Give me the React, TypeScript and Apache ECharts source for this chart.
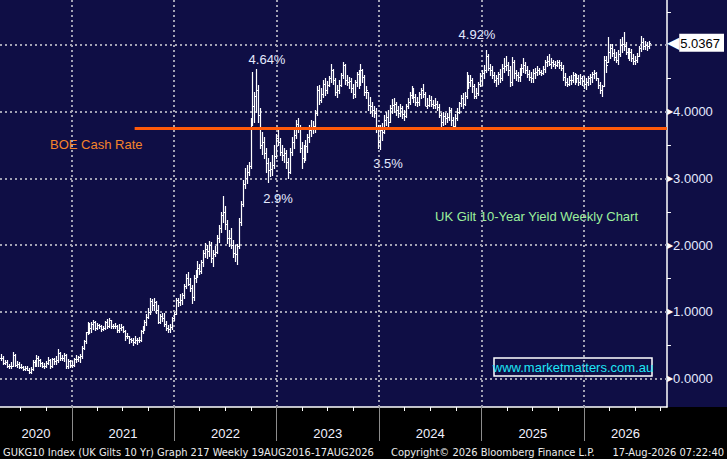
import React, { useEffect, useRef } from "react";
import * as echarts from "echarts";

// ---- time frame ----
const DAY = 86400000;
const WEEK = 7 * DAY;
const firstBarDate = Date.UTC(2020, 3, 24);
const axisStart = Date.UTC(2020, 3, 20);
const axisEnd = Date.UTC(2026, 9, 23, 12);
const yearStarts = [2021, 2022, 2023, 2024, 2025, 2026];
const tickYears = [2020, 2021, 2022, 2023, 2024, 2025, 2026];
const yLabelValues = [0, 1, 2, 3, 4];
const yMinorValues = [0.5, 1.5, 2.5, 3.5, 4.5, 5.5];
const gridValues = [0, 1, 2, 3, 4, 5];
const lastPrice = 5.0367;
const boeRate = 3.75;
const boeStart = Date.UTC(2021, 7, 13);
const firstOpen = 0.3;

// ---- weekly bars: [low, high, close] ----
const w2020 = [
  [0.27, 0.36, 0.31], [0.22, 0.33, 0.23], [0.21, 0.28, 0.24], [0.17, 0.27, 0.19], [0.16, 0.22, 0.18],
  [0.16, 0.24, 0.19], [0.18, 0.4, 0.35], [0.19, 0.36, 0.2], [0.17, 0.26, 0.22], [0.15, 0.24, 0.17],
  [0.15, 0.21, 0.17], [0.13, 0.19, 0.14], [0.13, 0.19, 0.15], [0.12, 0.18, 0.13], [0.08, 0.15, 0.1],
  [0.08, 0.17, 0.14], [0.13, 0.27, 0.24], [0.18, 0.27, 0.21], [0.19, 0.35, 0.31], [0.18, 0.33, 0.27],
  [0.19, 0.29, 0.23], [0.17, 0.25, 0.19], [0.16, 0.23, 0.19], [0.17, 0.26, 0.23], [0.22, 0.32, 0.28],
  [0.16, 0.29, 0.18], [0.17, 0.31, 0.29], [0.21, 0.31, 0.26], [0.22, 0.33, 0.28], [0.24, 0.44, 0.38],
  [0.28, 0.4, 0.31], [0.27, 0.35, 0.3], [0.26, 0.38, 0.35], [0.16, 0.36, 0.19], [0.16, 0.29, 0.26],
  [0.17, 0.28, 0.2],
];
const w2021 = [
  [0.17, 0.26, 0.2], [0.19, 0.31, 0.29], [0.25, 0.35, 0.29], [0.26, 0.34, 0.32], [0.25, 0.36, 0.33],
  [0.31, 0.49, 0.46], [0.44, 0.58, 0.56], [0.53, 0.7, 0.69], [0.67, 0.85, 0.82], [0.68, 0.83, 0.75],
  [0.7, 0.84, 0.82], [0.74, 0.88, 0.85], [0.73, 0.86, 0.76], [0.74, 0.83, 0.8], [0.75, 0.82, 0.79],
  [0.71, 0.8, 0.74], [0.72, 0.79, 0.75], [0.74, 0.86, 0.84], [0.75, 0.89, 0.78], [0.77, 0.91, 0.87],
  [0.76, 0.88, 0.78], [0.76, 0.82, 0.79], [0.75, 0.83, 0.78], [0.7, 0.8, 0.73], [0.7, 0.81, 0.75],
  [0.72, 0.81, 0.77], [0.7, 0.79, 0.71], [0.57, 0.72, 0.64], [0.6, 0.68, 0.63], [0.53, 0.64, 0.59],
  [0.54, 0.61, 0.57], [0.5, 0.6, 0.55], [0.53, 0.63, 0.57], [0.52, 0.61, 0.57], [0.54, 0.62, 0.58],
  [0.56, 0.73, 0.71], [0.68, 0.79, 0.74], [0.72, 0.88, 0.85], [0.8, 0.97, 0.92], [0.9, 1.05, 1.0],
  [0.97, 1.2, 1.16], [1.03, 1.19, 1.1], [1.03, 1.21, 1.14], [0.98, 1.16, 1.03], [0.83, 1.1, 0.85],
  [0.83, 0.96, 0.93], [0.86, 0.98, 0.9], [0.79, 0.98, 0.82], [0.72, 0.86, 0.75], [0.7, 0.8, 0.74],
  [0.7, 0.81, 0.77], [0.74, 0.92, 0.9], [0.88, 0.99, 0.97],
];
const w2022 = [
  [0.96, 1.2, 1.17], [1.08, 1.2, 1.15], [1.1, 1.27, 1.17], [1.12, 1.28, 1.25], [1.2, 1.41, 1.38],
  [1.36, 1.56, 1.5], [1.4, 1.6, 1.42], [1.31, 1.5, 1.36], [1.13, 1.4, 1.22], [1.18, 1.55, 1.5],
  [1.44, 1.62, 1.55], [1.52, 1.76, 1.66], [1.57, 1.72, 1.61], [1.58, 1.78, 1.75], [1.68, 1.92, 1.88],
  [1.82, 2.03, 1.94], [1.8, 2.0, 1.91], [1.84, 2.06, 2.0], [1.75, 2.04, 1.8], [1.68, 1.92, 1.87],
  [1.83, 1.98, 1.9], [1.88, 2.15, 2.1], [2.05, 2.3, 2.25], [2.2, 2.5, 2.45], [2.35, 2.73, 2.5],
  [2.24, 2.58, 2.31], [2.03, 2.37, 2.1], [1.98, 2.22, 2.11], [1.95, 2.25, 2.0], [1.82, 2.08, 1.88],
  [1.76, 2.0, 1.86], [1.72, 2.02, 1.98], [1.95, 2.4, 2.35], [2.3, 2.66, 2.62], [2.58, 2.98, 2.92],
  [2.85, 3.15, 3.0], [2.93, 3.2, 3.1], [3.05, 3.25, 3.18], [3.15, 3.9, 3.83], [3.8, 4.59, 4.09],
  [3.85, 4.3, 4.23], [4.0, 4.64, 4.33], [3.85, 4.4, 3.95], [3.45, 4.05, 3.5], [3.36, 3.7, 3.55],
  [3.3, 3.62, 3.38], [3.1, 3.45, 3.23], [2.94, 3.3, 3.12], [3.03, 3.24, 3.14], [3.05, 3.35, 3.2],
  [3.15, 3.5, 3.33], [3.3, 3.66, 3.6],
];
const w2023 = [
  [3.5, 3.74, 3.55], [3.35, 3.6, 3.4], [3.28, 3.5, 3.35], [3.25, 3.45, 3.38], [3.15, 3.42, 3.25],
  [3.0, 3.3, 3.1], [3.08, 3.45, 3.4], [3.35, 3.62, 3.55], [3.45, 3.72, 3.65], [3.6, 3.88, 3.82],
  [3.7, 3.91, 3.75], [3.4, 3.8, 3.45], [3.16, 3.55, 3.3], [3.25, 3.5, 3.32], [3.28, 3.58, 3.48],
  [3.4, 3.66, 3.62], [3.55, 3.8, 3.72], [3.64, 3.88, 3.75], [3.68, 3.86, 3.78], [3.7, 4.02, 3.98],
  [3.95, 4.38, 4.32], [4.12, 4.4, 4.18], [4.15, 4.35, 4.26], [4.22, 4.48, 4.42], [4.25, 4.5, 4.32],
  [4.28, 4.46, 4.4], [4.38, 4.54, 4.5], [4.45, 4.71, 4.62], [4.42, 4.64, 4.48], [4.25, 4.5, 4.3],
  [4.22, 4.4, 4.33], [4.28, 4.48, 4.4], [4.38, 4.58, 4.55], [4.5, 4.75, 4.7], [4.42, 4.72, 4.48],
  [4.4, 4.55, 4.45], [4.35, 4.52, 4.46], [4.3, 4.5, 4.35], [4.2, 4.42, 4.26], [4.22, 4.48, 4.44],
  [4.38, 4.6, 4.56], [4.35, 4.62, 4.42], [4.4, 4.71, 4.62], [4.45, 4.64, 4.52], [4.25, 4.55, 4.3],
  [4.2, 4.38, 4.32], [4.02, 4.3, 4.1], [3.98, 4.22, 4.08], [3.93, 4.15, 4.02], [3.92, 4.08, 3.98],
  [3.7, 4.05, 3.75], [3.45, 3.8, 3.55],
];
const w2024 = [
  [3.44, 3.8, 3.72], [3.58, 3.83, 3.7], [3.68, 3.95, 3.88], [3.8, 3.99, 3.92], [3.78, 4.02, 3.85],
  [3.85, 4.1, 4.05], [3.98, 4.19, 4.1], [4.0, 4.2, 4.12], [3.95, 4.15, 4.02], [3.92, 4.08, 3.98],
  [3.93, 4.12, 4.06], [3.9, 4.08, 3.96], [3.88, 4.02, 3.94], [3.92, 4.12, 4.08], [4.05, 4.2, 4.15],
  [4.12, 4.3, 4.25], [4.2, 4.39, 4.32], [4.15, 4.35, 4.22], [4.1, 4.26, 4.14], [4.08, 4.22, 4.15],
  [4.1, 4.3, 4.26], [4.2, 4.35, 4.32], [4.22, 4.41, 4.26], [4.1, 4.3, 4.08], [4.05, 4.2, 4.1],
  [4.08, 4.25, 4.18], [4.08, 4.23, 4.12], [4.05, 4.18, 4.1], [4.06, 4.2, 4.12], [4.02, 4.16, 4.07],
  [3.92, 4.12, 3.95], [3.78, 3.98, 3.84], [3.8, 4.0, 3.94], [3.82, 3.98, 3.9], [3.85, 3.98, 3.92],
  [3.88, 4.07, 4.02], [3.8, 4.05, 3.88], [3.76, 3.92, 3.79], [3.76, 3.97, 3.9], [3.88, 4.05, 4.0],
  [3.98, 4.15, 4.13], [4.08, 4.25, 4.21], [4.05, 4.28, 4.12], [4.1, 4.3, 4.24], [4.2, 4.59, 4.45],
  [4.35, 4.55, 4.45], [4.38, 4.55, 4.47], [4.3, 4.5, 4.38], [4.2, 4.42, 4.24], [4.2, 4.36, 4.28],
  [4.25, 4.45, 4.41], [4.38, 4.58, 4.54],
];
const w2025 = [
  [4.4, 4.62, 4.58], [4.5, 4.7, 4.62], [4.6, 4.93, 4.84], [4.62, 4.86, 4.66], [4.55, 4.72, 4.62],
  [4.5, 4.68, 4.55], [4.45, 4.6, 4.48], [4.39, 4.55, 4.5], [4.42, 4.6, 4.56], [4.45, 4.64, 4.5],
  [4.48, 4.72, 4.66], [4.6, 4.8, 4.68], [4.62, 4.83, 4.7], [4.55, 4.75, 4.62], [4.39, 4.68, 4.45],
  [4.4, 4.82, 4.75], [4.5, 4.78, 4.58], [4.48, 4.62, 4.55], [4.46, 4.6, 4.52], [4.46, 4.66, 4.58],
  [4.55, 4.72, 4.66], [4.6, 4.8, 4.7], [4.58, 4.74, 4.62], [4.52, 4.68, 4.56], [4.48, 4.62, 4.52],
  [4.45, 4.6, 4.5], [4.44, 4.64, 4.58], [4.5, 4.66, 4.6], [4.55, 4.68, 4.62], [4.56, 4.66, 4.6],
  [4.55, 4.62, 4.58], [4.56, 4.68, 4.64], [4.6, 4.78, 4.74], [4.68, 4.83, 4.76], [4.7, 4.86, 4.72],
  [4.66, 4.8, 4.74], [4.68, 4.78, 4.72], [4.66, 4.76, 4.7], [4.68, 4.78, 4.74], [4.66, 4.77, 4.7],
  [4.62, 4.74, 4.66], [4.48, 4.7, 4.52], [4.4, 4.58, 4.45], [4.38, 4.5, 4.42], [4.4, 4.54, 4.48],
  [4.42, 4.55, 4.47], [4.45, 4.6, 4.55], [4.42, 4.58, 4.48], [4.44, 4.56, 4.5], [4.4, 4.55, 4.45],
  [4.42, 4.56, 4.5], [4.4, 4.54, 4.46],
];
const w2026 = [
  [4.36, 4.54, 4.42], [4.34, 4.5, 4.45], [4.4, 4.54, 4.5], [4.42, 4.56, 4.52], [4.45, 4.6, 4.56],
  [4.5, 4.62, 4.58], [4.48, 4.6, 4.5], [4.35, 4.5, 4.4], [4.28, 4.44, 4.32], [4.23, 4.4, 4.38],
  [4.38, 4.84, 4.78], [4.6, 4.84, 4.7], [4.74, 5.12, 4.9], [4.8, 5.02, 4.95], [4.84, 5.01, 4.88],
  [4.78, 4.94, 4.82], [4.74, 4.9, 4.78], [4.71, 4.92, 4.86], [4.84, 5.09, 5.0], [4.9, 5.12, 5.02],
  [4.92, 5.19, 4.98], [4.86, 5.05, 4.9], [4.81, 4.96, 4.86], [4.78, 4.96, 4.9], [4.76, 4.94, 4.8],
  [4.71, 4.86, 4.76], [4.72, 4.84, 4.78], [4.74, 4.88, 4.84], [4.84, 4.99, 4.95], [4.91, 5.14, 5.05],
  [4.94, 5.1, 4.98], [4.94, 5.06, 5.0], [4.92, 5.05, 4.98], [4.95, 5.06, 5.0367],
];

const FONT = '"Liberation Sans", Arial, "DejaVu Sans", sans-serif';
const NARROW = '"DejaVu Sans Condensed", "Liberation Sans Narrow", "Liberation Sans", sans-serif';

export default function App() {
  const ref = useRef<HTMLDivElement>(null);

  useEffect(() => {
    if (!ref.current) return;
    const chart = echarts.init(ref.current, null, { renderer: "svg" });

    const weekly = [...w2020, ...w2021, ...w2022, ...w2023, ...w2024, ...w2025, ...w2026];
    let prev = firstOpen;
    const ohlc = weekly.map(([l, h, c], i) => {
      const item = [firstBarDate + i * WEEK, prev, c, l, h];
      prev = c;
      return item;
    });

    const jan1 = (y: number) => Date.UTC(y, 0, 1);
    const quarterTicks: number[] = [];
    tickYears.forEach((y) => [0, 3, 6, 9].forEach((m) => {
      const t = Date.UTC(y, m, 1);
      if (t >= axisStart && t <= axisEnd) quarterTicks.push(t);
    }));
    const yearLabelPos = tickYears.map((y) => {
      const a = Math.max(jan1(y), axisStart);
      const b = Math.min(jan1(y + 1), axisEnd);
      return (a + b) / 2;
    });

    const option: any = {
      animation: false,
      backgroundColor: "transparent",
      textStyle: { fontFamily: FONT },
      grid: { left: 0, top: 0, width: 668, height: 407, containLabel: false },
      xAxis: [
        {
          type: "value",
          min: axisStart,
          max: axisEnd,
          position: "bottom",
          axisLine: { show: true, onZero: false, lineStyle: { color: "#ffffff", width: 1.5 } },
          axisTick: { show: true, customValues: quarterTicks, length: 4, lineStyle: { color: "#ffffff", width: 1 } },
          axisLabel: {
            show: true,
            customValues: yearLabelPos,
            formatter: (v: number) => String(new Date(v).getUTCFullYear()),
            color: "#f2f2ff",
            fontSize: 13,
            fontFamily: FONT,
            margin: 20,
          },
          splitLine: { show: false },
        },
        {
          type: "value",
          min: axisStart,
          max: axisEnd,
          position: "bottom",
          axisLine: { show: false, onZero: false },
          axisTick: { show: true, customValues: yearStarts.map(jan1), length: 34, lineStyle: { color: "#8c8c8c", width: 1 } },
          axisLabel: { show: false },
          splitLine: { show: false },
        },
      ],
      yAxis: {
        type: "value",
        position: "right",
        min: -0.429,
        max: 5.677,
        axisLine: { show: true, onZero: false, lineStyle: { color: "#ffffff", width: 1.5 } },
        axisTick: { show: true, customValues: yMinorValues, length: 4, lineStyle: { color: "#ffffff" } },
        splitLine: { show: false },
        axisLabel: {
          show: true,
          customValues: [...yLabelValues, lastPrice],
          margin: 0,
          formatter: (v: number) =>
            Math.abs(v - lastPrice) < 1e-6
              ? `{arr|◀}{tag|${v.toFixed(4)}}`
              : `{tri|▶}{val|${v.toFixed(4)}}`,
          rich: {
            tri: { color: "#ffffff", fontSize: 8, fontFamily: "DejaVu Sans" },
            val: { color: "#e4eaff", fontSize: 13, fontFamily: FONT },
            arr: { color: "#ffffff", fontSize: 16, fontFamily: "DejaVu Sans", lineHeight: 18 },
            tag: {
              color: "#000000",
              backgroundColor: "#ffffff",
              fontSize: 13,
              fontFamily: FONT,
              padding: [3, 4, 2, 1],
              lineHeight: 14,
            },
          },
        },
      },
      series: [
        {
          name: "grid",
          type: "line",
          data: [],
          z: 1,
          silent: true,
          markLine: {
            silent: true,
            symbol: ["none", "none"],
            label: { show: false },
            z: 1,
            lineStyle: { color: "#a3a3b4", width: 2, type: [2, 3] },
            data: [
              ...yearStarts.map((y) => ({ xAxis: jan1(y) })),
              ...gridValues.map((v) => ({ yAxis: v })),
            ],
          },
        },
        {
          name: "GUKG10",
          type: "custom",
          z: 3,
          clip: true,
          data: ohlc,
          encode: { x: 0, y: [3, 4] },
          renderItem: (_p: any, api: any) => {
            const t = api.value(0);
            const l = api.value(3);
            const h = api.value(4);
            const o = Math.min(Math.max(api.value(1), l), h);
            const c = api.value(2);
            const pH = api.coord([t, h]);
            const pL = api.coord([t, l]);
            const pO = api.coord([t, o]);
            const pC = api.coord([t, c]);
            const x = Math.round(pH[0]) + 0.5;
            const yo = Math.round(pO[1]) + 0.5;
            const yc = Math.round(pC[1]) + 0.5;
            const st = { stroke: "#ffffff", lineWidth: 1.2 };
            return {
              type: "group",
              children: [
                { type: "line", shape: { x1: x, y1: Math.round(pH[1]), x2: x, y2: Math.round(pL[1]) + 1 }, style: st },
                { type: "line", shape: { x1: x - 1.5, y1: yo, x2: x, y2: yo }, style: st },
                { type: "line", shape: { x1: x, y1: yc, x2: x + 1.5, y2: yc }, style: st },
              ],
            };
          },
        },
        {
          name: "BOE Cash Rate",
          type: "line",
          data: [],
          z: 5,
          silent: true,
          markLine: {
            silent: true,
            symbol: ["none", "none"],
            label: { show: false },
            z: 5,
            lineStyle: { color: "#ff5a0a", width: 3, type: "solid" },
            data: [[{ coord: [boeStart, boeRate] }, { coord: [axisEnd, boeRate] }]],
          },
        },
      ],
      graphic: [
        { type: "text", x: 267, y: 59, style: { text: "4.64%", fill: "#e4eaff", font: `13px ${FONT}`, align: "center", verticalAlign: "middle" } },
        { type: "text", x: 278, y: 198, style: { text: "2.9%", fill: "#e4eaff", font: `13px ${FONT}`, align: "center", verticalAlign: "middle" } },
        { type: "text", x: 388, y: 163, style: { text: "3.5%", fill: "#e4eaff", font: `13px ${FONT}`, align: "center", verticalAlign: "middle" } },
        { type: "text", x: 477, y: 34, style: { text: "4.92%", fill: "#e4eaff", font: `13px ${FONT}`, align: "center", verticalAlign: "middle" } },
        { type: "text", x: 50, y: 144, style: { text: "BOE Cash Rate", fill: "#f5842a", font: `13px ${FONT}`, align: "left", verticalAlign: "middle" } },
        { type: "text", x: 435, y: 216, style: { text: "UK Gilt 10-Year Yield Weekly Chart", fill: "#9cf09c", font: `13px ${FONT}`, align: "left", verticalAlign: "middle" } },
        { type: "rect", shape: { x: 494, y: 358, width: 158, height: 18 }, style: { fill: "none", stroke: "#ffffff", lineWidth: 1.5 } },
        { type: "text", x: 573, y: 367, style: { text: "www.marketmatters.com.au", fill: "#1ee6f5", font: `13px ${FONT}`, align: "center", verticalAlign: "middle" } },
        { type: "text", x: 3, y: 452, style: { text: "GUKG10 Index (UK Gilts 10 Yr) Graph 217 Weekly 19AUG2016-17AUG2026", fill: "#ececec", font: `11px ${NARROW}`, align: "left", verticalAlign: "middle" } },
        { type: "text", x: 391, y: 452, style: { text: "Copyright© 2026 Bloomberg Finance L.P.", fill: "#ececec", font: `11px ${NARROW}`, align: "left", verticalAlign: "middle" } },
        { type: "text", x: 724, y: 452, style: { text: "17-Aug-2026 07:22:40", fill: "#ececec", font: `11px ${NARROW}`, align: "right", verticalAlign: "middle" } },
      ],
    };

    chart.setOption(option);
    return () => chart.dispose();
  }, []);

  return (
    <div
      ref={ref}
      style={{
        position: "fixed",
        left: 0,
        top: 0,
        width: 727,
        height: 459,
        background: "linear-gradient(to bottom, #0f0e45 0px, #0f0e45 407px, #000000 407px, #000000 459px)",
      }}
    />
  );
}
